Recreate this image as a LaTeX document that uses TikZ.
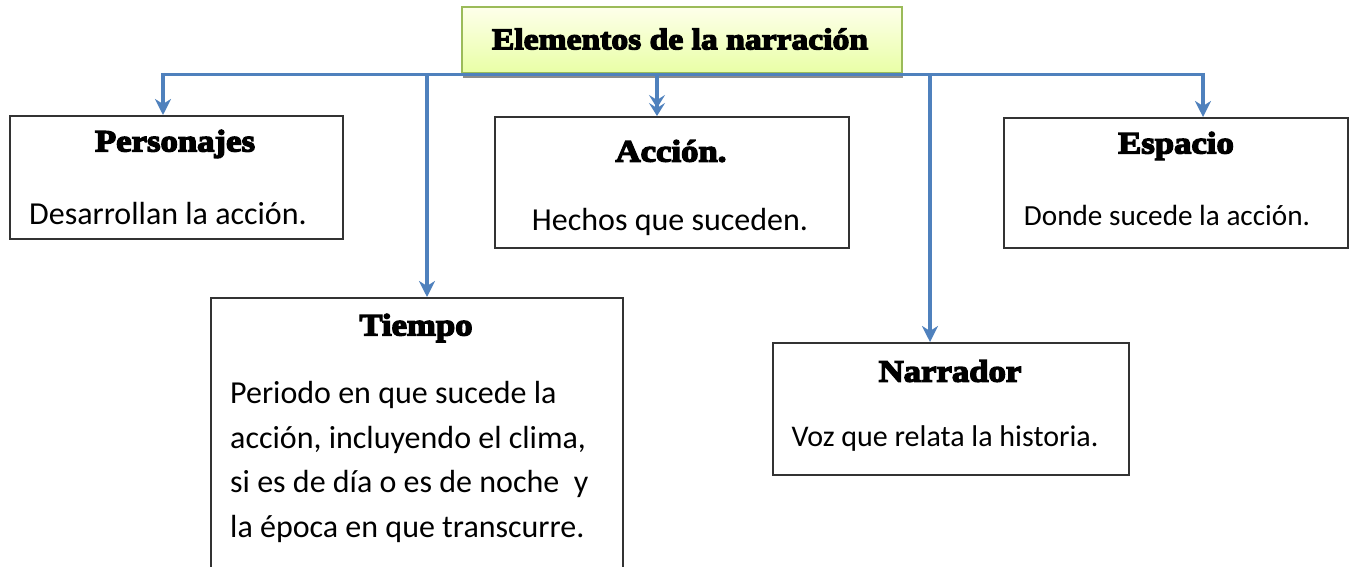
\documentclass[tikz,border=0pt]{standalone}
\usepackage{fontspec}
\setmainfont{Carlito}
\newfontfamily\headfont{Liberation Serif}[FakeStretch=1.12,BoldFeatures={FakeBold=4.5}]
\usetikzlibrary{arrows.meta,shadows}
\definecolor{conn}{RGB}{79,129,189}
\definecolor{olive}{RGB}{155,187,89}
\tikzset{
  box/.style={draw=black!80,line width=2pt,fill=white,inner sep=0pt,anchor=north west},
  head/.style={font=\headfont\bfseries\fontsize{31}{36}\selectfont,inner sep=0pt},
  body/.style={font=\fontsize{32}{36}\selectfont,inner sep=0pt},
  link/.style={draw=conn,line width=3.2pt},
  arr/.style={link,-{Stealth[length=16pt,width=16pt,inset=5pt]}},
}
\begin{document}
\begin{tikzpicture}[x=1pt,y=-1pt]
\useasboundingbox[fill=white] (0,0) rectangle (1351,567);
% title
\node[draw=olive,line width=2pt,top color=green!6!yellow!8,bottom color=green!25!yellow!35,
      minimum width=440pt,minimum height=66pt,inner sep=0pt,
      drop shadow={shadow xshift=1pt,shadow yshift=-5pt,fill=black!45,opacity=1}]
      (title) at (682,40) {};
\node[font=\headfont\bfseries\fontsize{30}{36}\selectfont,inner sep=0pt] (titletext) at (680,39) {Elementos de la narración};
% boxes
\node[box,minimum width=333pt,minimum height=123pt] (pers) at (9,115) {};
\node[box,minimum width=354pt,minimum height=131pt] (acc) at (494,116) {};
\node[box,minimum width=344pt,minimum height=130pt] (esp) at (1003,117) {};
\node[box,minimum width=412pt,minimum height=280pt] (tiem) at (210,297) {};
\node[box,minimum width=356pt,minimum height=132pt] (narr) at (772,342) {};
% texts
\node[head] (persh) at (175,144) {Personajes};
\node[body] (persb) at (168,214) {Desarrollan la acción.};
\node[head] (acch) at (671,151) {Acción.};
\node[body] (accb) at (670,222) {Hechos que suceden.};
\node[head] (esph) at (1176,146) {Espacio};
\node[body,font=\fontsize{29.2}{36}\selectfont] (espb) at (1167,215) {Donde sucede la acción.};
\node[head] (tiemh) at (416,328) {Tiempo};
\node[body,align=left,anchor=west,font=\fontsize{32}{44.5}\selectfont] (tiemb) at (230,462)
  {Periodo en que sucede la\\acción, incluyendo el clima,\\si es de día o es de noche\ \ y\\la época en que transcurre.};
\node[head] (narrh) at (950,371) {Narrador};
\node[body,font=\fontsize{30}{36}\selectfont] (narrb) at (945,438) {Voz que relata la historia.};
% connectors
\coordinate (hL) at (163,74.5);
\coordinate (hR) at (1203,74.5);
\draw[link] (hL) -- (hR);
\draw[arr] ([yshift=1.6pt]hL) -- (hL |- pers.north);
\draw[arr] (427,74.5) -- (427,0 |- tiem.north);
\draw[link,-{Stealth[length=13pt,width=16pt,inset=5pt,sep=-5pt]Stealth[length=13pt,width=16pt,inset=5pt]}] (657,0 |- title.south) -- (657,0 |- acc.north);
\draw[arr] (930,74.5) -- (930,0 |- narr.north);
\draw[arr] ([yshift=1.6pt]hR) -- (hR |- esp.north);
\end{tikzpicture}
\end{document}
